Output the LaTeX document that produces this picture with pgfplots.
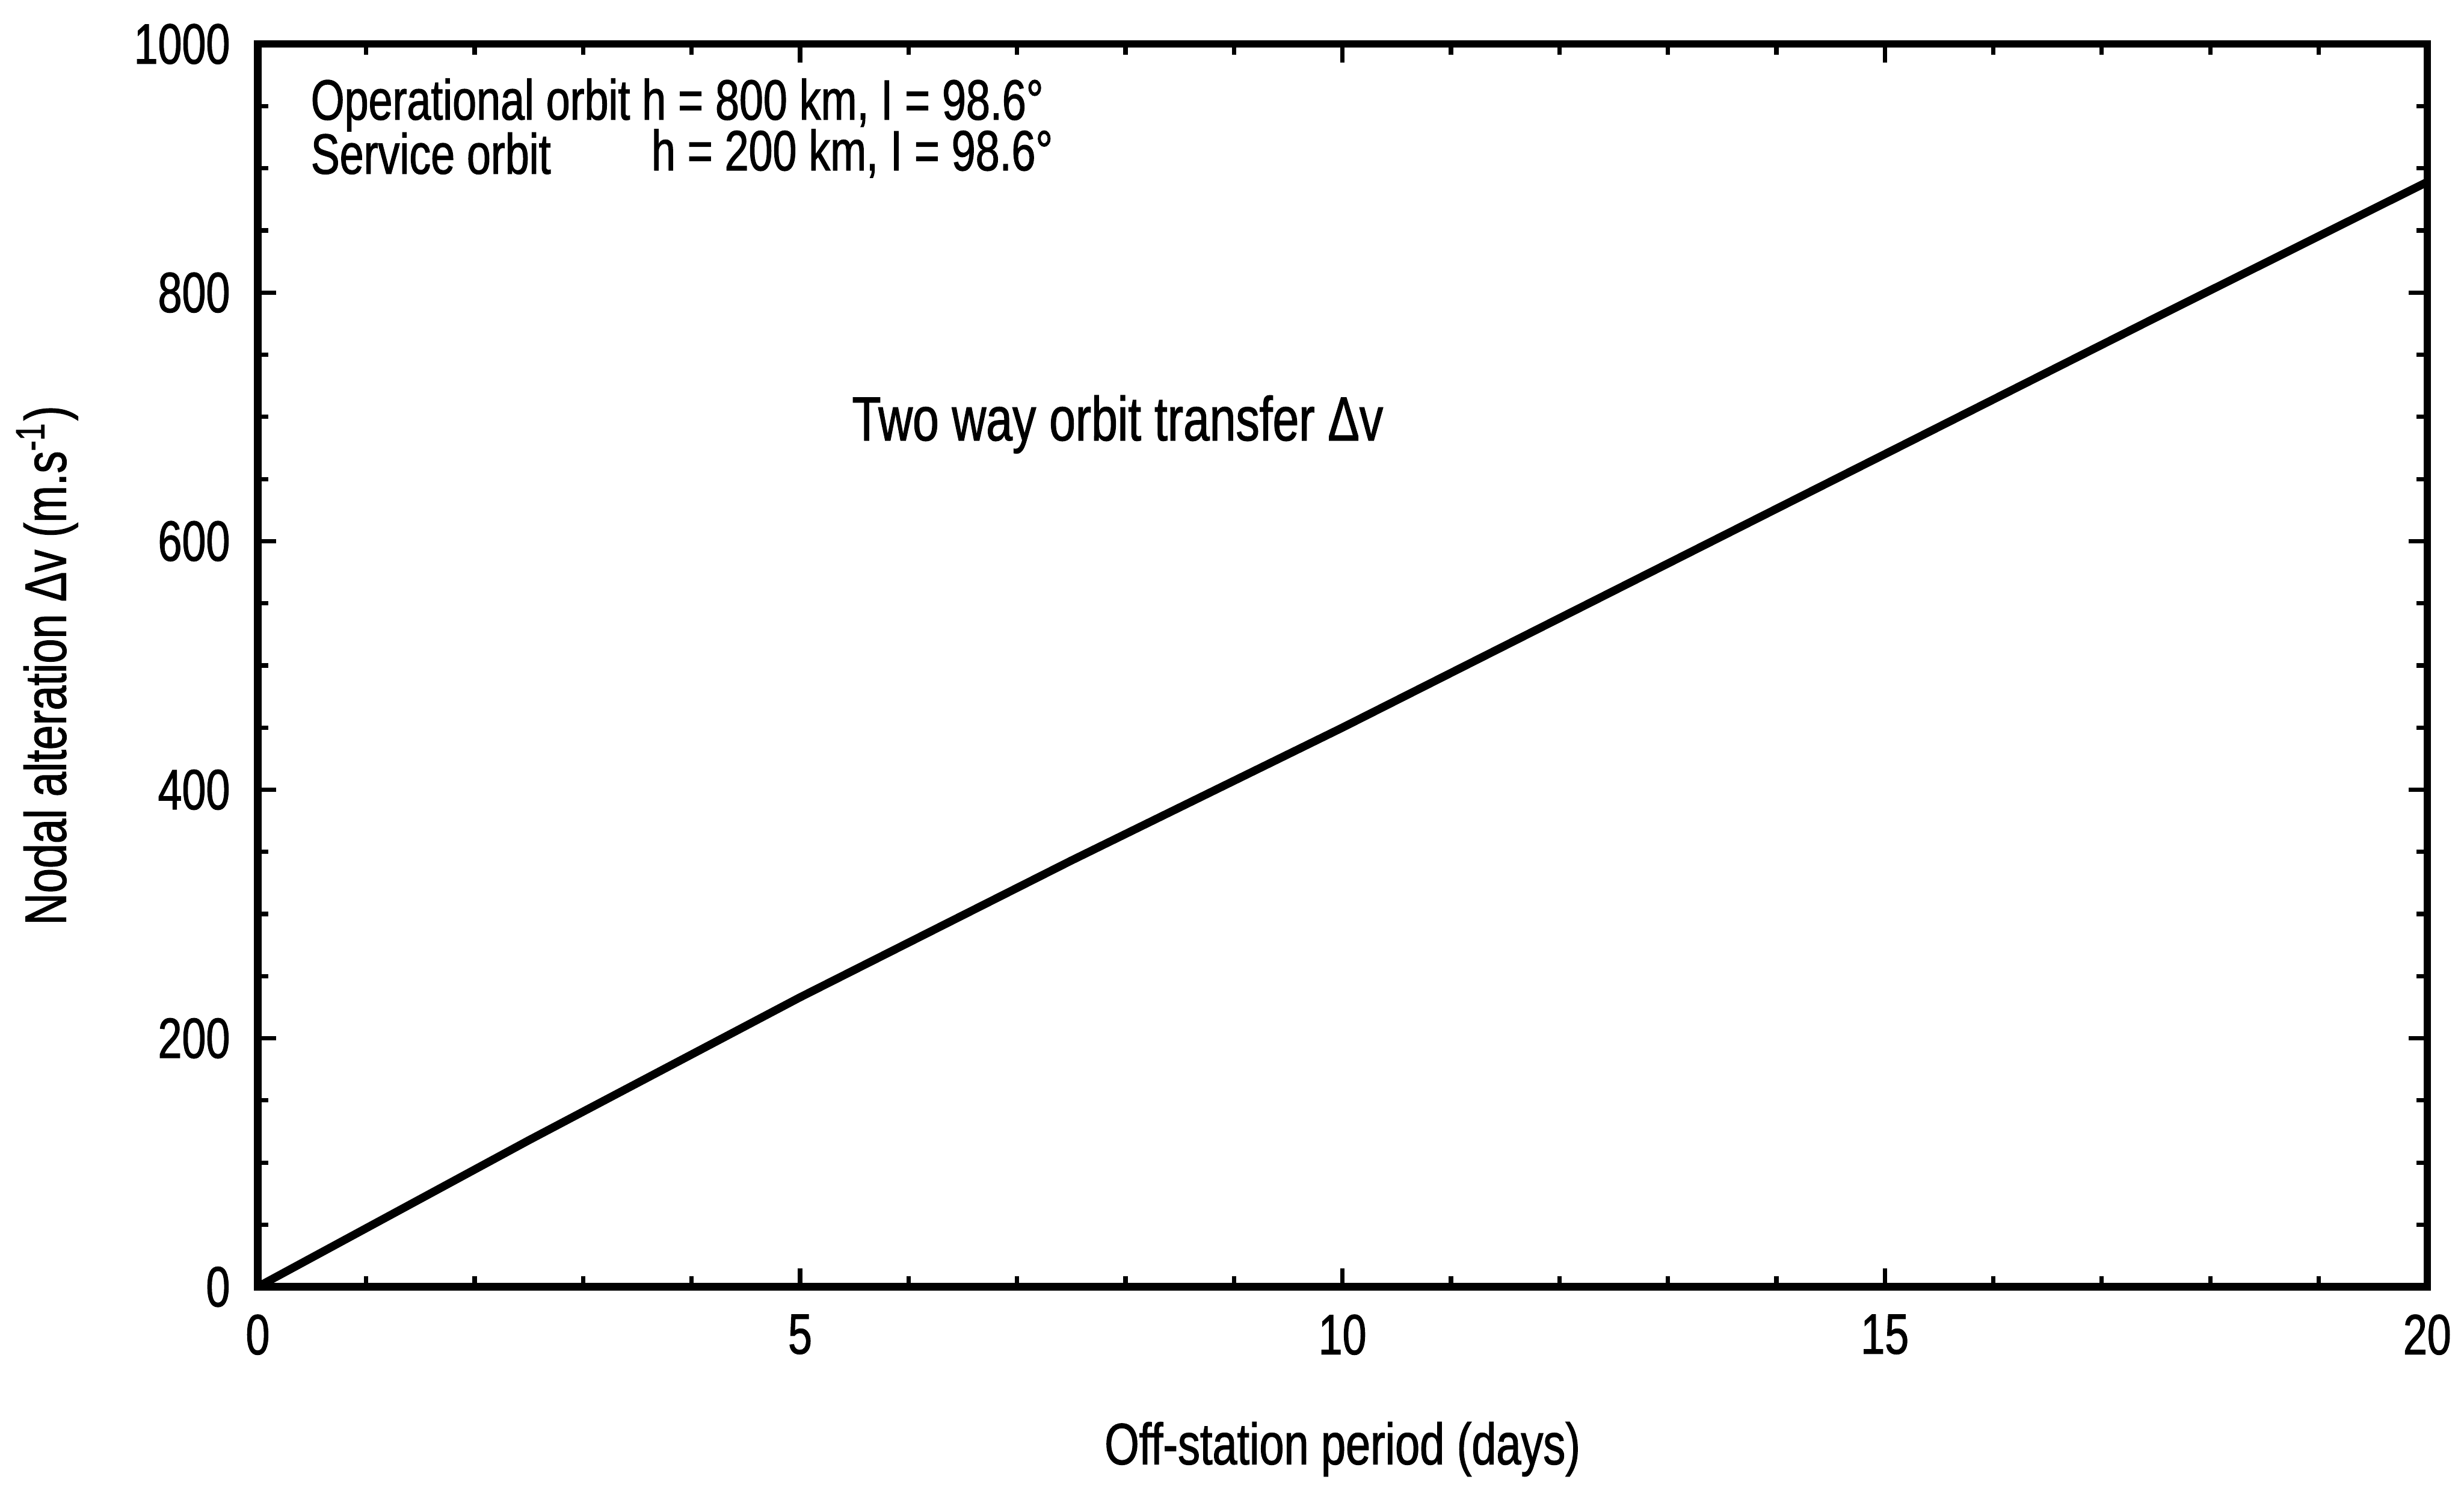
\documentclass[border=0pt]{standalone}
\usepackage{fontspec}
\setmainfont{Liberation Sans}[FakeStretch=0.76, FakeBold=1.2]
\usepackage{pgfplots}
\pgfplotsset{compat=1.18}
\begin{document}
\fontsize{10.5pt}{12pt}\selectfont
\begin{tikzpicture}
\useasboundingbox (-1.674,-1.283) rectangle (14.09+0.239,8.07+0.286);
\begin{axis}[
  at={(0,0)}, anchor=south west,
  scale only axis, width=14.09cm, height=8.07cm,
  xmin=0, xmax=20, ymin=0, ymax=1000,
  xtick={0,5,10,15,20}, ytick={0,200,400,600,800,1000},
  minor x tick num=4, minor y tick num=3,
  tick align=inside, major tick length=0.12cm, minor tick length=0.07cm,
  tick style={line width=0.8pt, black},
  axis line style={line width=1.4pt},
  /pgf/number format/assume math mode=true,
  /pgf/number format/1000 sep={},
  ticklabel style={font=\fontsize{10.5pt}{12pt}\selectfont},
  xticklabel style={yshift=-0.05cm},
  yticklabel style={xshift=-0.05cm},
  xlabel={Off-station period (days)},
  ylabel={Nodal alteration Δv (m.s\textsuperscript{-1})},
  xlabel style={at={(axis description cs:0.5,0)}, anchor=center, yshift=-1.054cm},
  ylabel style={at={(axis description cs:0,0.5)}, anchor=center, yshift=1.368cm},
  label style={font=\fontsize{10.8pt}{12pt}\selectfont},
  clip=false,
]
\addplot[black, line width=1.5pt] coordinates {
  (0,0) (2.5,118) (5,233) (7.5,343) (10,450) (12.5,560) (15,670) (17.5,780) (20,889)
};
\node[anchor=west, inner sep=0pt] at (axis cs:0.48,951) {Operational orbit h = 800 km, I = 98.6°};
\node[anchor=west, inner sep=0pt] at (axis cs:0.48,912) {Service orbit};
\node[anchor=west, inner sep=0pt] at (axis cs:3.62,912) {h = 200 km, I = 98.6°};
\node[anchor=west, inner sep=0pt, font=\fontsize{11.5pt}{13pt}\selectfont] at (axis cs:5.47,694) {Two way orbit transfer Δv};
\end{axis}
\end{tikzpicture}
\end{document}
